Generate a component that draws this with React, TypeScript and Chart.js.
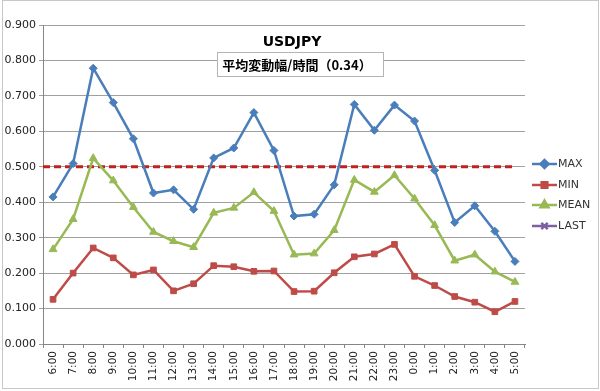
import React, { useEffect, useRef } from "react";
import { Chart, registerables } from "chart.js";
import { drawPoint } from "chart.js/helpers";

Chart.register(...registerables);

const categories = [
  "6:00", "7:00", "8:00", "9:00", "10:00", "11:00", "12:00", "13:00",
  "14:00", "15:00", "16:00", "17:00", "18:00", "19:00", "20:00", "21:00",
  "22:00", "23:00", "0:00", "1:00", "2:00", "3:00", "4:00", "5:00",
];
const maxValues = [
  0.415, 0.509, 0.778, 0.681, 0.579, 0.426, 0.435, 0.380,
  0.525, 0.553, 0.653, 0.546, 0.361, 0.366, 0.449, 0.676,
  0.603, 0.674, 0.629, 0.490, 0.343, 0.390, 0.318, 0.233,
];
const minValues = [
  0.126, 0.200, 0.271, 0.243, 0.195, 0.209, 0.150, 0.170,
  0.221, 0.218, 0.205, 0.206, 0.148, 0.149, 0.201, 0.246,
  0.254, 0.281, 0.191, 0.165, 0.134, 0.118, 0.091, 0.120,
];
const meanValues = [
  0.267, 0.352, 0.524, 0.461, 0.386, 0.316, 0.290, 0.273,
  0.370, 0.384, 0.428, 0.375, 0.252, 0.255, 0.321, 0.463,
  0.429, 0.476, 0.410, 0.335, 0.235, 0.252, 0.204, 0.175,
];
const lastValues: (number | null)[] = [];
const thresholdValue = 0.5;
const titleText = "USDJPY";
const subtitleText = "平均変動幅/時間（0.34）";
const seriesNames = ["MAX", "MIN", "MEAN", "LAST"];

const FONT = "'DejaVu Sans', 'Noto Sans', sans-serif";
const JP_FONT = "'Noto Sans CJK JP', 'DejaVu Sans', sans-serif";

const decorPlugin = {
  id: "decor",
  beforeDraw(chart: any) {
    const { ctx, width, height } = chart;
    ctx.save();
    ctx.fillStyle = "#ffffff";
    ctx.fillRect(0, 0, width, height);
    ctx.strokeStyle = "#c8c8c8";
    ctx.lineWidth = 1;
    ctx.strokeRect(2.5, 0.5, width - 4, height - 3);
    ctx.restore();
  },
  beforeDatasetsDraw(chart: any) {
    const { ctx, chartArea, scales } = chart;
    const y = scales.y.getPixelForValue(thresholdValue);
    const xEnd = scales.x.getPixelForValue(categories.length - 1);
    ctx.save();
    ctx.strokeStyle = "#c0211c";
    ctx.lineWidth = 3;
    ctx.setLineDash([7, 4]);
    ctx.beginPath();
    ctx.moveTo(chartArea.left, y);
    ctx.lineTo(xEnd, y);
    ctx.stroke();
    ctx.restore();
  },
  afterDraw(chart: any) {
    const { ctx } = chart;
    ctx.save();
    // title
    ctx.fillStyle = "#000";
    ctx.font = `bold 14px ${FONT}`;
    ctx.textAlign = "center";
    ctx.textBaseline = "middle";
    ctx.fillText(titleText, 292, 42);
    // subtitle box
    ctx.fillStyle = "#ffffff";
    ctx.fillRect(217, 52, 167, 25);
    ctx.strokeStyle = "#b4b4b4";
    ctx.lineWidth = 1;
    ctx.strokeRect(217.5, 52.5, 166, 24);
    ctx.fillStyle = "#000";
    ctx.font = `bold 13px ${JP_FONT}`;
    ctx.fillText(subtitleText, 297, 65);
    // legend
    const ys = [164, 185, 205, 226];
    chart.data.datasets.forEach((ds: any, i: number) => {
      const yy = ys[i];
      ctx.strokeStyle = ds.borderColor;
      ctx.lineWidth = 2.5;
      ctx.setLineDash([]);
      ctx.beginPath();
      ctx.moveTo(532, yy);
      ctx.lineTo(557, yy);
      ctx.stroke();
      ctx.fillStyle = ds.pointBackgroundColor;
      ctx.strokeStyle = ds.pointBorderColor;
      drawPoint(ctx, {
        pointStyle: ds.pointStyle,
        radius: ds.pointRadius,
        rotation: 0,
        borderWidth: ds.pointBorderWidth,
      } as any, 544.5, yy);
      ctx.fillStyle = "#333";
      ctx.font = `11px ${FONT}`;
      ctx.textAlign = "left";
      ctx.textBaseline = "middle";
      ctx.fillText(ds.label, 558, yy + 0.5);
    });
    ctx.restore();
  },
};

export default function App() {
  const ref = useRef<HTMLCanvasElement>(null);
  useEffect(() => {
    document.body.style.margin = "0";
    const canvas = ref.current!;
    const chart = new Chart(canvas, {
      type: "line",
      data: {
        labels: categories,
        datasets: [
          {
            label: seriesNames[0],
            data: maxValues,
            borderColor: "#4a7ebb",
            backgroundColor: "#4a7ebb",
            pointBackgroundColor: "#4a7ebb",
            pointBorderColor: "#4a7ebb",
            pointStyle: "rectRot",
            pointRadius: 4,
            pointBorderWidth: 1,
            borderWidth: 2.5,
            tension: 0,
          },
          {
            label: seriesNames[1],
            data: minValues,
            borderColor: "#be4b48",
            backgroundColor: "#be4b48",
            pointBackgroundColor: "#be4b48",
            pointBorderColor: "#be4b48",
            pointStyle: "rect",
            pointRadius: 4,
            pointBorderWidth: 1,
            borderWidth: 2.5,
            tension: 0,
          },
          {
            label: seriesNames[2],
            data: meanValues,
            borderColor: "#98b954",
            backgroundColor: "#98b954",
            pointBackgroundColor: "#98b954",
            pointBorderColor: "#98b954",
            pointStyle: "triangle",
            pointRadius: 4.5,
            pointBorderWidth: 1,
            borderWidth: 2.5,
            tension: 0,
          },
          {
            label: seriesNames[3],
            data: lastValues,
            borderColor: "#7d60a0",
            backgroundColor: "#7d60a0",
            pointBackgroundColor: "#7d60a0",
            pointBorderColor: "#7d60a0",
            pointStyle: "crossRot",
            pointRadius: 4.5,
            pointBorderWidth: 1.5,
            borderWidth: 2.5,
            tension: 0,
          },
        ] as any,
      },
      options: {
        responsive: false,
        animation: false,
        devicePixelRatio: 1,
        layout: { padding: { left: 0, right: 75, top: 25, bottom: 0 } },
        plugins: {
          legend: { display: false },
          title: { display: false },
          tooltip: { enabled: false },
        },
        scales: {
          x: {
            offset: true,
            grid: {
              offset: true,
              drawOnChartArea: false,
              drawTicks: true,
              tickLength: 4,
              color: "#868686",
            },
            border: { color: "#868686", width: 1 },
            ticks: {
              minRotation: 90,
              maxRotation: 90,
              autoSkip: false,
              padding: 3,
              color: "#222",
              font: { family: FONT, size: 10.5 },
            },
            afterFit(scale: any) {
              scale.height = 47;
            },
          },
          y: {
            min: 0,
            max: 0.9,
            grid: {
              color: "#a0a0a0",
              lineWidth: 1,
              drawTicks: true,
              tickLength: 4,
            },
            border: { color: "#868686", width: 1 },
            ticks: {
              stepSize: 0.1,
              padding: 3,
              color: "#222",
              font: { family: FONT, size: 11 },
              callback: (v: any) => Number(v).toFixed(3),
            },
            afterFit(scale: any) {
              scale.width = 43;
            },
          },
        },
      },
      plugins: [decorPlugin],
    });
    return () => chart.destroy();
  }, []);
  return <canvas ref={ref} width={600} height={391} style={{ display: "block" }} />;
}
